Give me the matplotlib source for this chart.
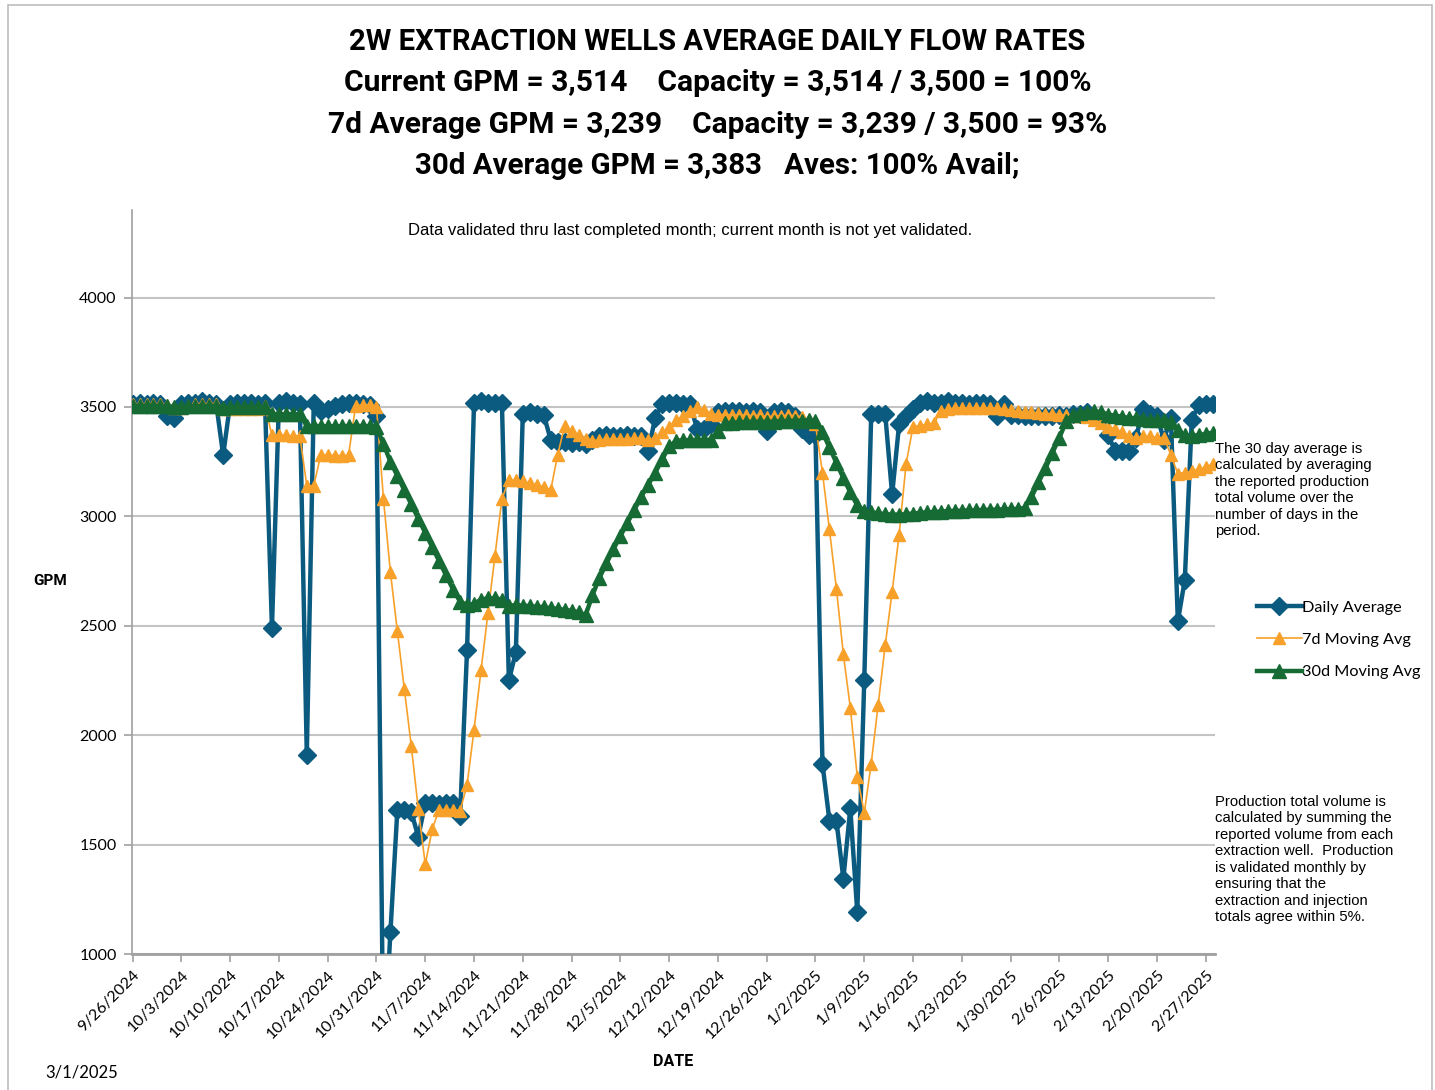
import numpy as np
import pandas as pd
import matplotlib
matplotlib.use('Agg')
import matplotlib.pyplot as plt
from matplotlib.patches import Rectangle

# ----
# Data
# ----

start_date = '2024-09-26'

daily_avg = [
    3515, 3520, 3515, 3520, 3515, 3460, 3450, 3515, 3520, 3520,
    3525, 3520, 3515, 3280, 3515, 3520, 3520, 3520, 3515, 3520,
    2490, 3520, 3525, 3520, 3515, 1910, 3520, 3480, 3490, 3505,
    3515, 3520, 3520, 3515, 3510, 3460, 500, 1100, 1660, 1660,
    1650, 1535, 1690, 1690, 1685, 1690, 1690, 1630, 2390, 3520,
    3525, 3520, 3520, 3520, 2250, 2380, 3470, 3475, 3470, 3465,
    3350, 3340, 3340, 3335, 3340, 3330, 3350, 3365, 3370, 3365,
    3365, 3370, 3365, 3365, 3300, 3450, 3515, 3520, 3520, 3515,
    3515, 3400, 3400, 3420, 3475, 3480, 3480, 3480, 3475, 3480,
    3475, 3390, 3475, 3480, 3475, 3460, 3400, 3370, 3370, 1870,
    1610, 1610, 1345, 1665, 1190, 2250, 3470, 3470, 3470, 3100,
    3420, 3460, 3490, 3520, 3525, 3520, 3520, 3525, 3520, 3520,
    3515, 3520, 3520, 3515, 3460, 3515, 3465, 3462, 3460, 3460,
    3458, 3458, 3460, 3462, 3460, 3470, 3470, 3475, 3460, 3450,
    3370, 3300, 3300, 3300, 3360, 3490, 3470, 3460, 3350, 3450,
    2520, 2710, 3440, 3510, 3515, 3514,
]

avg_7d = [
    3512, 3513, 3513, 3514, 3515, 3507, 3497, 3497, 3506, 3515,
    3515, 3515, 3515, 3490, 3490, 3490, 3490, 3490, 3490, 3505,
    3370, 3370, 3370, 3368, 3368, 3140, 3140, 3280, 3280, 3278,
    3278, 3280, 3505, 3510, 3510, 3500, 3080, 2745, 2475, 2210,
    1950, 1662, 1410, 1570, 1660, 1660, 1660, 1655, 1772, 2025,
    2296, 2557, 2819, 3080, 3165, 3165, 3160, 3152, 3145, 3135,
    3120, 3280, 3415, 3390, 3372, 3352, 3345, 3350, 3352, 3355,
    3355, 3355, 3357, 3357, 3350, 3360, 3385, 3410, 3440, 3460,
    3480, 3500, 3485, 3470, 3465, 3465, 3463, 3462, 3462, 3460,
    3462, 3455, 3458, 3460, 3462, 3460, 3455, 3440, 3420, 3200,
    2940, 2670, 2370, 2125, 1810, 1645, 1870, 2140, 2410, 2655,
    2915, 3240, 3410, 3415, 3420, 3425, 3480, 3490, 3495, 3495,
    3495, 3495, 3495, 3495, 3495, 3490, 3485, 3480, 3478, 3475,
    3472, 3470, 3468, 3465, 3462, 3460, 3460, 3455, 3440, 3425,
    3410, 3400, 3385, 3365, 3360, 3365, 3365, 3360, 3360, 3280,
    3195, 3200, 3205, 3215, 3225, 3240,
]

avg_30d = [
    3505, 3506, 3505, 3506, 3505, 3503, 3501, 3502, 3503, 3504,
    3504, 3505, 3505, 3497, 3498, 3498, 3499, 3500, 3500, 3500,
    3466, 3466, 3467, 3467, 3466, 3413, 3413, 3412, 3412, 3412,
    3412, 3413, 3413, 3413, 3412, 3410, 3330, 3250, 3185, 3120,
    3055, 2990, 2925, 2860, 2795, 2730, 2665, 2610, 2595, 2600,
    2620, 2625, 2625, 2620, 2590, 2595, 2592, 2590, 2587, 2585,
    2580, 2577, 2573, 2568, 2562, 2548, 2640, 2720, 2785, 2850,
    2910, 2970, 3030, 3090, 3145, 3200, 3260, 3320, 3345, 3348,
    3348, 3350, 3350, 3350, 3390, 3425, 3428, 3430, 3431, 3432,
    3433, 3432, 3433, 3435, 3436, 3437, 3438, 3440, 3435, 3385,
    3315, 3245, 3175, 3110, 3050, 3025, 3018, 3014, 3010, 3008,
    3008, 3010, 3013, 3016, 3018, 3020, 3022, 3024, 3025, 3026,
    3027, 3028, 3029, 3030, 3031, 3032, 3033, 3034, 3038, 3088,
    3155, 3220, 3290, 3360, 3435, 3465, 3472, 3478, 3480, 3476,
    3465, 3460, 3455, 3450, 3448, 3445, 3442, 3440, 3440, 3430,
    3395, 3370, 3368, 3371, 3377, 3383,
]

series_labels = ['Daily Average', '7d Moving Avg', '30d Moving Avg']

title_lines = [
    '2W EXTRACTION WELLS AVERAGE DAILY FLOW RATES',
    'Current GPM = 3,514    Capacity = 3,514 / 3,500 = 100%',
    '7d Average GPM = 3,239    Capacity = 3,239 / 3,500 = 93%',
    '30d Average GPM = 3,383   Aves: 100% Avail;',
]

note_top = ('The 30 day average is\ncalculated by averaging\nthe reported production\n'
            'total volume over the\nnumber of days in the\nperiod.')
note_bottom = ('Production total volume is\ncalculated by summing the\nreported volume from each\n'
               'extraction well.  Production\nis validated monthly by\nensuring that the\n'
               'extraction and injection\ntotals agree within 5%.')
note_validated = 'Data validated thru last completed month; current month is not yet validated.'
report_date = '3/1/2025'

dates = pd.date_range(start_date, periods=len(daily_avg), freq='D')
tick_dates = dates[::7]
tick_labels = [f'{d.month}/{d.day}/{d.year}' for d in tick_dates]

# ------
# Figure
# ------

W, H = 1435, 1090
fig = plt.figure(figsize=(W / 100, H / 100), dpi=100)

def fx(px):
    return px / W

def fy(py):
    return 1 - py / H

ax = fig.add_axes([fx(132), fy(954), fx(1215) - fx(132), fy(210) - fy(954)])

BLUE = '#0B5A80'
ORANGE = '#F7A12A'
GREEN = '#166B35'
GRID = '#C4C4C4'
SANS = ['Lato', 'DejaVu Sans']
ARIAL = ['Liberation Sans', 'DejaVu Sans']
HEAD = ['Roboto', 'DejaVu Sans']

ax.plot(dates, daily_avg, color=BLUE, lw=3.2, marker='D', ms=9, zorder=3,
        label=series_labels[0])
ax.plot(dates, avg_7d, color=ORANGE, lw=1.2, marker='^', ms=8, zorder=4,
        label=series_labels[1])
ax.plot(dates, avg_30d, color=GREEN, lw=3.2, marker='^', ms=10.5, zorder=5,
        label=series_labels[2])

# axes properties
ax.set_ylim(1000, 4400)
ax.set_yticks([1000, 1500, 2000, 2500, 3000, 3500, 4000])
ax.set_xlim(dates[0] - pd.Timedelta(hours=2), dates[-1] + pd.Timedelta(hours=8))
ax.set_xticks(tick_dates)
ax.set_xticklabels(tick_labels, rotation=45, ha='right', rotation_mode='anchor',
                   fontsize=11.5, family=SANS)
for lab in ax.get_yticklabels():
    lab.set_fontsize(11.5)
    lab.set_family(SANS)
ax.tick_params(axis='both', colors='#A0A0A0', labelcolor='black', width=1.2, length=6)
ax.tick_params(axis='x', pad=4)
ax.tick_params(axis='y', pad=5)
ax.grid(axis='y', color=GRID, lw=1.5, zorder=0)
ax.set_axisbelow(True)
for side in ['top', 'right']:
    ax.spines[side].set_visible(False)
ax.spines['left'].set_color('#A0A0A0')
ax.spines['bottom'].set_color('#A0A0A0')
ax.spines['left'].set_linewidth(1.2)
ax.spines['bottom'].set_linewidth(2)

# titles: size each line to the width it has in the reference
title_y = [42, 83, 125, 166]
title_w = [735, 745, 775, 604]
renderer = fig.canvas.get_renderer()
for line, y, w in zip(title_lines, title_y, title_w):
    t = fig.text(0.5, fy(y), line, ha='center', va='center', fontsize=20,
                 fontweight='bold', family=HEAD)
    cur = t.get_window_extent(renderer).width
    t.set_fontsize(20 * w / cur)

fig.text(fx(690), fy(230), note_validated, ha='center', va='center', fontsize=12,
         family=ARIAL)
fig.text(fx(1215), fy(442), note_top, ha='left', va='top', fontsize=10.7,
         linespacing=1.22, family=ARIAL)
fig.text(fx(1215), fy(795), note_bottom, ha='left', va='top', fontsize=10.7,
         linespacing=1.22, family=ARIAL)

fig.text(fx(50), fy(581), 'GPM', ha='center', va='center', fontsize=11, fontweight='bold',
         family=HEAD)
fig.text(fx(673), fy(1061), 'DATE', ha='center', va='center', fontsize=11.5, fontweight='bold',
         family=HEAD)
fig.text(fx(45), fy(1072), report_date, ha='left', va='center', fontsize=12,
         family=SANS)

leg = fig.legend(loc='upper left', bbox_to_anchor=(fx(1250), fy(594)), frameon=False,
                 handlelength=2.8, handletextpad=0.0, labelspacing=1.1,
                 borderaxespad=0, prop={'family': SANS, 'size': 11.7})

# outer frame
fig.patches.append(Rectangle((fx(8), -0.01), fx(1432) - fx(8), fy(5) + 0.01,
                             transform=fig.transFigure, fill=False, edgecolor='#BDBDBD',
                             lw=1.2))

plt.savefig('out.png', dpi=100)
